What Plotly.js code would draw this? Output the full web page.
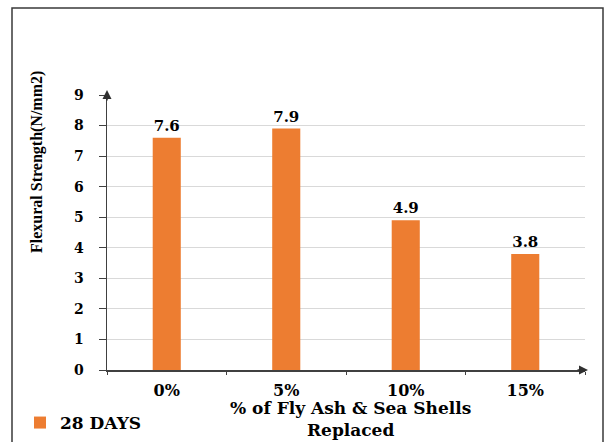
<!DOCTYPE html>
<html>
<head>
<meta charset="utf-8">
<script src="https://cdn.plot.ly/plotly-3.0.1.min.js"></script>
<style>
  html, body { margin: 0; padding: 0; background: #ffffff; }
  #chart { width: 605px; height: 442px; }
</style>
</head>
<body>
<div id="chart"></div>
<script>
// Replacement levels and 28-day flexural strength (N/mm2)
const categories = ['0%', '5%', '10%', '15%'];
const strength28 = [7.6, 7.9, 4.9, 3.8];
const seriesName = '28 DAYS';
const yTitle = 'Flexural Strength(N/mm2)';
const xTitle = '% of Fly Ash & Sea Shells<br>Replaced';

const boldSerif = 'DejaVu Serif, Liberation Serif, serif';
const plotL = 107, plotR = 20, plotT = 95, plotB = 72;
const plotW = 605 - plotL - plotR, plotH = 442 - plotT - plotB;
const px = v => (v - plotL) / plotW;          // page x -> paper x
const py = v => (442 - plotB - v) / plotH;    // page y -> paper y

const trace = {
  type: 'bar',
  x: categories,
  y: strength28,
  name: seriesName,
  width: 0.235,
  marker: { color: '#ED7D31' },
  text: strength28.map(v => v.toFixed(1)),
  textposition: 'outside',
  cliponaxis: false,
  textfont: { family: boldSerif, size: 15, color: '#000000', weight: 'bold' },
  showlegend: true
};

const layout = {
  width: 605,
  height: 442,
  margin: { l: plotL, r: plotR, t: plotT, b: plotB, autoexpand: false },
  paper_bgcolor: '#ffffff',
  plot_bgcolor: '#ffffff',
  showlegend: true,
  legend: {
    x: px(20), y: py(423), xanchor: 'left', yanchor: 'middle',
    font: { family: boldSerif, size: 17, color: '#000000', weight: 'bold' },
    bgcolor: 'rgba(0,0,0,0)', itemwidth: 30
  },
  xaxis: {
    type: 'category',
    range: [-0.5, 3.5],
    showline: true, linecolor: '#404040', linewidth: 1.5,
    ticks: 'outside', tickson: 'boundaries', ticklen: 3, tickcolor: '#404040',
    ticklabelstandoff: 5,
    showgrid: false, zeroline: false,
    tickfont: { family: boldSerif, size: 16, color: '#000000', weight: 'bold' },
    automargin: false
  },
  yaxis: {
    range: [0, 9],
    dtick: 1,
    showline: true, linecolor: '#404040', linewidth: 1.5,
    ticks: 'outside', ticklen: 7, tickcolor: '#404040',
    ticklabelstandoff: 12,
    showgrid: true, gridcolor: '#d9d9d9', gridwidth: 1,
    zeroline: false,
    tickfont: { family: boldSerif, size: 14, color: '#000000', weight: 'bold' },
    automargin: false
  },
  shapes: [{
    type: 'rect', xref: 'paper', yref: 'paper',
    x0: px(12), x1: px(603), y0: py(460), y1: py(8),
    line: { color: '#3a3a3a', width: 1.5 },
    fillcolor: 'rgba(0,0,0,0)', layer: 'below'
  }],
  annotations: [
    {
      // axis title for strength, set high beside the scale
      xref: 'paper', yref: 'paper', x: px(37), y: py(162),
      xanchor: 'center', yanchor: 'middle',
      text: yTitle, textangle: -90, showarrow: false,
      font: { family: 'Liberation Serif, Times New Roman, serif', size: 16, color: '#000000', weight: 'bold' }
    },
    {
      // category axis title, two lines under the tick labels
      xref: 'paper', yref: 'paper', x: px(350), y: py(397),
      xanchor: 'center', yanchor: 'top', borderpad: 0,
      text: xTitle, showarrow: false,
      font: { family: boldSerif, size: 17, color: '#000000', weight: 'bold' }
    },
    {
      // arrow head on the value axis
      xref: 'paper', yref: 'paper', x: 0, y: py(90), ax: 0, ay: 12,
      text: '', showarrow: true, arrowhead: 2, arrowsize: 1.2, arrowwidth: 1.5, arrowcolor: '#303030'
    },
    {
      // arrow head on the category axis
      xref: 'paper', yref: 'paper', x: px(588), y: 0, ax: -12, ay: 0,
      text: '', showarrow: true, arrowhead: 2, arrowsize: 1.2, arrowwidth: 1.5, arrowcolor: '#303030'
    }
  ]
};

Plotly.newPlot('chart', [trace], layout, { staticPlot: true, displayModeBar: false });
</script>
</body>
</html>
